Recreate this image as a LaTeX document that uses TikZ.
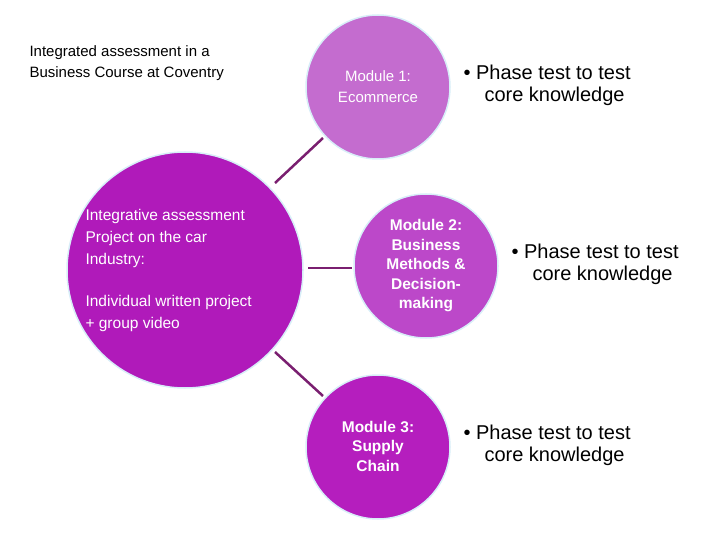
\documentclass[tikz,border=0pt]{standalone}
\usepackage{fontspec}
\setmainfont{Liberation Sans}
\definecolor{big}{HTML}{B01ABA}
\definecolor{mone}{HTML}{C46CCF}
\definecolor{mtwo}{HTML}{BC48C9}
\definecolor{mthree}{HTML}{B51EBE}
\definecolor{link}{HTML}{7A1F70}
\definecolor{rim}{HTML}{D8EEF8}
\begin{document}
\begin{tikzpicture}[x=1pt,y=-1pt,
  circ/.style={circle,draw=rim,line width=1.5pt,inner sep=0pt},
  conn/.style={draw=link,line width=2.5pt},
  bul/.style={anchor=north west,align=left,font=\fontsize{20}{22}\selectfont}]
\useasboundingbox (0,0) rectangle (720,540);
\node[circ,fill=big,minimum size=236pt] (big) at (185,270) {};
\node[circ,fill=mone,minimum size=144pt] (m1) at (378,87) {};
\node[circ,fill=mtwo,minimum size=144pt] (m2) at (426,266) {};
\node[circ,fill=mthree,minimum size=144pt] (m3) at (378,447) {};
\coordinate (a1) at (275,183); \coordinate (b1) at (323,138);
\coordinate (a2) at (308,268); \coordinate (b2) at (352,268);
\coordinate (a3) at (275,352); \coordinate (b3) at (323,396);
\draw[conn] (a1) -- (b1);
\draw[conn] (a2) -- (b2);
\draw[conn] (a3) -- (b3);
\node[anchor=north west,align=left,font=\fontsize{15}{21}\selectfont] (title) at (26,42) {Integrated assessment in a\\Business Course at Coventry};
\node[anchor=north west,align=left,text=white,font=\fontsize{15.5}{22}\selectfont] (t1) at (82,206) {Integrative assessment\\Project on the car\\Industry:};
\node[anchor=north west,align=left,text=white,font=\fontsize{15.5}{22}\selectfont] (t2) at (82,292) {Individual written project\\+ group video};
\node[align=center,text=white,font=\fontsize{15}{21}\selectfont] (l1) at (378,87) {Module 1:\\Ecommerce};
\node[align=center,text=white,font=\bfseries\fontsize{15.5}{19.5}\selectfont] (l2) at (426,266) {Module 2:\\Business\\Methods \&\\Decision-\\making};
\node[align=center,text=white,font=\bfseries\fontsize{15.5}{19.5}\selectfont] (l3) at (378,446) {Module 3:\\Supply\\Chain};
\node[bul] (p1) at (460,61) {• Phase test to test\\\hspace*{1.05em}core knowledge};
\node[bul] (p2) at (508,240) {• Phase test to test\\\hspace*{1.05em}core knowledge};
\node[bul] (p3) at (460,421) {• Phase test to test\\\hspace*{1.05em}core knowledge};
\end{tikzpicture}
\end{document}
